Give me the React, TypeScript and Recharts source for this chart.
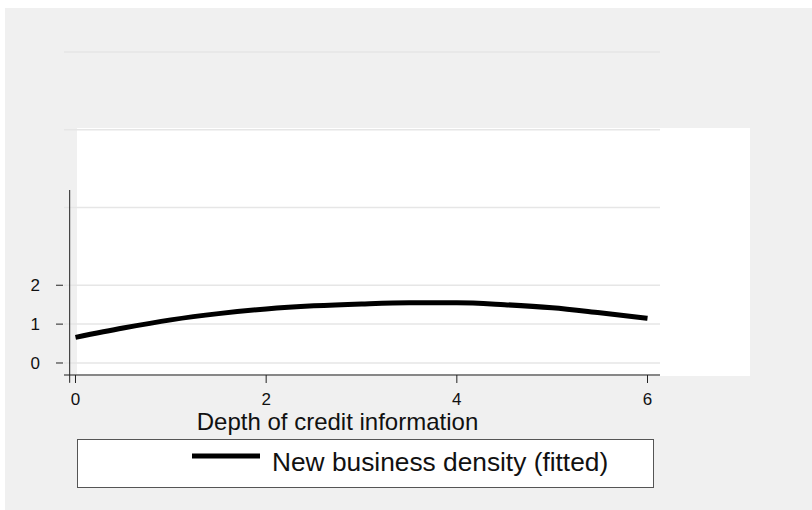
import { CartesianGrid, Line, LineChart, ReferenceLine, XAxis, YAxis } from "recharts";

// depth of credit information index
const depth = [0, 0.5, 1, 1.5, 2, 2.5, 3, 3.5, 4, 4.5, 5, 5.5, 6];
// fitted new business density
const fitted = [0.66, 0.9, 1.11, 1.27, 1.39, 1.47, 1.52, 1.55, 1.55, 1.5, 1.42, 1.29, 1.15];

const xTicks = [0, 2, 4, 6];
const yTicks = [0, 1, 2, 4, 6, 8];
const yLabelled = [0, 1, 2];

const seriesName = "New business density (fitted)";
const xTitle = "Depth of credit information";

const data = depth.map((d, i) => ({ depth: d, fitted: fitted[i] }));

const FONT = '"Liberation Sans", Arial, sans-serif';

function YTick(props: any) {
  const { y, payload } = props;
  if (!yLabelled.includes(payload.value)) return <g />;
  return (
    <g>
      <line x1={56} x2={63} y1={y} y2={y} stroke="#222" strokeWidth={1} />
      <text x={40} y={y + 6} textAnchor="end" fontSize={17} fill="#111" fontFamily={FONT}>
        {payload.value}
      </text>
    </g>
  );
}

export default function App() {
  return (
    <div style={{ position: "absolute", left: 0, top: 0, width: 812, height: 510, fontFamily: FONT }}>
      <div style={{ position: "absolute", left: 5, top: 8, width: 807, height: 502, background: "#f0f0f0" }} />
      <div style={{ position: "absolute", left: 77, top: 128, width: 673, height: 248, background: "#ffffff" }} />
      <div style={{ position: "absolute", left: 0, top: 0 }}>
        <LineChart width={812} height={510} data={data} margin={{ top: 52, right: 152, bottom: 0, left: 0 }}>
          <CartesianGrid vertical={false} stroke="#e6e6e6" strokeWidth={1.5} />
          <XAxis
            dataKey="depth"
            type="number"
            domain={[-0.1206, 6.131]}
            allowDataOverflow
            ticks={xTicks}
            height={135}
            tickSize={8}
            tickMargin={10}
            axisLine={{ stroke: "#222", strokeWidth: 1 }}
            tickLine={{ stroke: "#222", strokeWidth: 1 }}
            tick={{ fontSize: 17, fill: "#111", fontFamily: FONT }}
            label={{
              value: xTitle,
              position: "insideTop",
              offset: 38,
              dx: -24.5,
              fontSize: 24,
              fill: "#111",
              fontFamily: FONT
            }}
          />
          <YAxis
            type="number"
            domain={[-0.3087, 8]}
            allowDataOverflow
            ticks={yTicks}
            width={64}
            axisLine={false}
            tickLine={false}
            tick={<YTick />}
          />
          <ReferenceLine
            segment={[
              { x: -0.061, y: 4.45 },
              { x: -0.061, y: -0.51 }
            ]}
            stroke="#222"
            strokeWidth={1}
            ifOverflow="visible"
          />
          <Line
            type="monotone"
            dataKey="fitted"
            name={seriesName}
            stroke="#000"
            strokeWidth={5}
            dot={false}
            activeDot={false}
            isAnimationActive={false}
          />
        </LineChart>
      </div>
      <div
        style={{
          position: "absolute",
          left: 77,
          top: 439,
          width: 577,
          height: 49,
          boxSizing: "border-box",
          border: "1px solid #555",
          background: "#fff"
        }}
      >
        <svg width={575} height={47} style={{ display: "block" }}>
          <line x1={114} x2={182} y1={16} y2={16} stroke="#000" strokeWidth={5} />
          <text x={194} y={31} fontSize={26.3} fill="#111" fontFamily={FONT}>
            {seriesName}
          </text>
        </svg>
      </div>
    </div>
  );
}
